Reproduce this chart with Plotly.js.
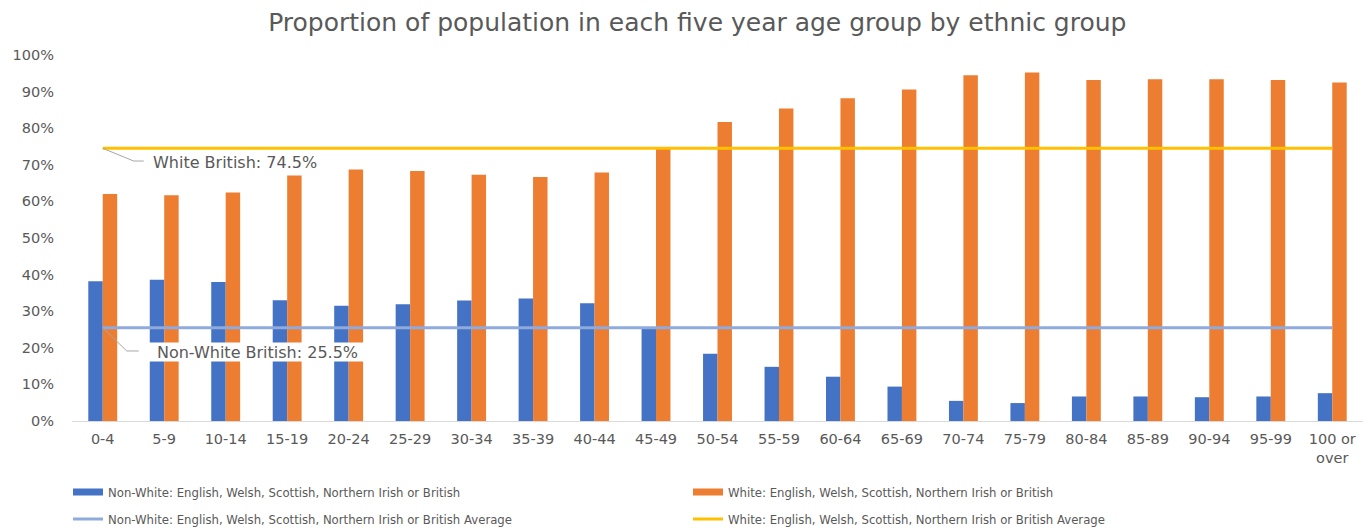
<!DOCTYPE html>
<html>
<head>
<meta charset="utf-8">
<script src="https://cdn.plot.ly/plotly-3.0.1.min.js"></script>
<style>html,body{margin:0;padding:0;background:#fff;}#chart{width:1370px;height:528px;}</style>
</head>
<body>
<div id="chart"></div>
<script>
const categories = ['0-4','5-9','10-14','15-19','20-24','25-29','30-34','35-39','40-44','45-49','50-54','55-59','60-64','65-69','70-74','75-79','80-84','85-89','90-94','95-99','100 or<br>over'];
const nonWhiteBritish = [38.2, 38.6, 38.0, 33.0, 31.5, 31.9, 32.9, 33.5, 32.2, 25.5, 18.4, 14.8, 12.1, 9.4, 5.5, 4.9, 6.7, 6.7, 6.5, 6.7, 7.6];
const whiteBritish = [62.0, 61.7, 62.4, 67.1, 68.7, 68.3, 67.3, 66.7, 67.9, 74.3, 81.7, 85.4, 88.2, 90.6, 94.5, 95.2, 93.2, 93.4, 93.4, 93.2, 92.5];
const nonWhiteAverage = 25.5;
const whiteAverage = 74.5;
const seriesNames = [
  'Non-White: English, Welsh, Scottish, Northern Irish or British',
  'White: English, Welsh, Scottish, Northern Irish or British',
  'Non-White: English, Welsh, Scottish, Northern Irish or British Average',
  'White: English, Welsh, Scottish, Northern Irish or British Average'
];
const titleText = 'Proportion of population in each five year age group by ethnic group';

const FONT = '"DejaVu Sans", Verdana, sans-serif';
const GREY = '#595959';
const BLUE = '#4472C4', ORANGE = '#ED7D31', LIGHTBLUE = '#8FAADC', YELLOW = '#FFC000';
const first = categories[0], last = categories[categories.length - 1];

const traces = [
  {type:'bar', x:categories, y:nonWhiteBritish, name:seriesNames[0], marker:{color:BLUE}, showlegend:false, legendgroup:'a'},
  {type:'bar', x:categories, y:whiteBritish, name:seriesNames[1], marker:{color:ORANGE}, showlegend:false, legendgroup:'b'},
  {type:'scatter', mode:'lines', x:[first, last], y:[nonWhiteAverage, nonWhiteAverage], name:seriesNames[2], line:{color:LIGHTBLUE, width:3}, legend:'legend2'},
  {type:'scatter', mode:'lines', x:[first, last], y:[whiteAverage, whiteAverage], name:seriesNames[3], line:{color:YELLOW, width:3}, legend:'legend2'},
  // legend entries for the bar series (wide rectangle swatch, as in the reference)
  {type:'scatter', mode:'lines', x:[null], y:[null], name:seriesNames[0], line:{color:BLUE, width:7}, legendgroup:'a', hoverinfo:'skip'},
  {type:'scatter', mode:'lines', x:[null], y:[null], name:seriesNames[1], line:{color:ORANGE, width:7}, legendgroup:'b', hoverinfo:'skip'}
];

const legendCommon = {orientation:'h', xref:'container', x:68/1370, xanchor:'left', yref:'container', yanchor:'middle',
  entrywidth:575, entrywidthmode:'pixels', font:{family:FONT, size:11.7, color:GREY}, itemwidth:30,
  bgcolor:'rgba(0,0,0,0)', traceorder:'normal'};

const layout = {
  width:1370, height:528,
  margin:{l:72, r:7, t:55, b:106.5},
  paper_bgcolor:'#fff', plot_bgcolor:'#fff',
  font:{family:FONT, color:GREY, size:13},
  title:{text:titleText, font:{family:FONT, size:25, color:GREY}, xref:'container', x:0.509, xanchor:'center', yref:'container', y:0.958, yanchor:'middle'},
  barmode:'group', bargap:0.53, bargroupgap:0,
  xaxis:{type:'category', showline:true, linecolor:'#d9d9d9', linewidth:1, ticks:'', showgrid:false, zeroline:false,
         tickfont:{family:FONT, size:14.5, color:GREY}, ticklabelstandoff:5, fixedrange:true},
  yaxis:{range:[0,100], dtick:10, ticksuffix:'%', showgrid:false, zeroline:false, showline:false, ticks:'',
         tickfont:{family:FONT, size:14.5, color:GREY}, ticklabelstandoff:17, fixedrange:true},
  showlegend:true,
  legend:Object.assign({}, legendCommon, {y:1 - 492/528}),
  legend2:Object.assign({}, legendCommon, {y:1 - 519/528}),
  shapes:[
    {type:'path', xref:'x', yref:'y', xsizemode:'pixel', ysizemode:'pixel', xanchor:0, yanchor:whiteAverage,
     path:'M0,0L31,-12.7L41,-12.7', line:{color:'#a6a6a6', width:1}},
    {type:'path', xref:'x', yref:'y', xsizemode:'pixel', ysizemode:'pixel', xanchor:0, yanchor:nonWhiteAverage,
     path:'M0,0L24,-23.3L36,-23.3', line:{color:'#a6a6a6', width:1}}
  ],
  annotations:[
    {x:0, y:whiteAverage, xref:'x', yref:'y', text:'White British: ' + whiteAverage + '%', showarrow:false,
     xanchor:'left', yanchor:'middle', xshift:48, yshift:-14, font:{family:FONT, size:16, color:GREY}},
    {x:0, y:nonWhiteAverage, xref:'x', yref:'y', text:'Non-White British: ' + nonWhiteAverage + '%', showarrow:false,
     xanchor:'left', yanchor:'middle', xshift:45, yshift:-24.5, bgcolor:'#ffffff', borderpad:0, width:217, height:18, align:'center',
     font:{family:FONT, size:16, color:GREY}}
  ]
};

Plotly.newPlot('chart', traces, layout, {displayModeBar:false, staticPlot:true});
</script>
</body>
</html>
